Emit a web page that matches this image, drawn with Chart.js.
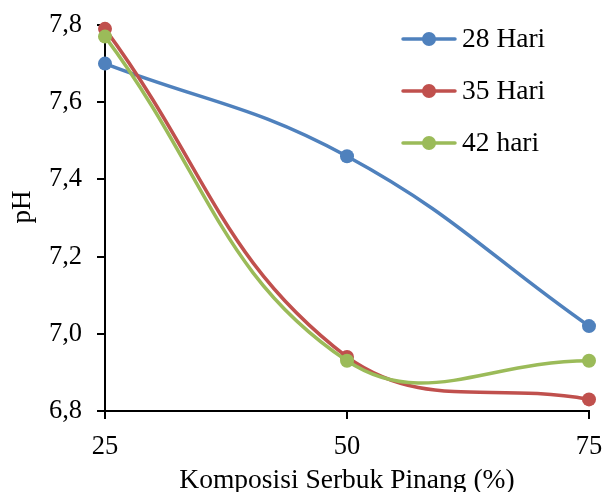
<!DOCTYPE html>
<html>
<head>
<meta charset="utf-8">
<script src="https://cdn.jsdelivr.net/npm/chart.js@4/dist/chart.umd.min.js"></script>
<style>
  html, body { margin: 0; padding: 0; background: #ffffff; }
  canvas { display: block; }
</style>
</head>
<body>
<canvas id="phChart" width="605" height="492"></canvas>
<script>
// pH versus areca-nut powder composition, per incubation time
const komposisi = [25, 50, 75];
const hari28 = [7.70, 7.46, 7.02];
const hari35 = [7.79, 6.94, 6.83];
const hari42 = [7.77, 6.93, 6.93];

const seriesNames = ['28 Hari', '35 Hari', '42 hari'];
const seriesColors = ['#4F81BD', '#C0504D', '#9BBB59'];

const yTickValues = [6.8, 7.0, 7.2, 7.4, 7.6, 7.8];
const yTickLabels = ['6,8', '7,0', '7,2', '7,4', '7,6', '7,8'];
const xTickLabels = ['25', '50', '75'];

const xTitle = 'Komposisi Serbuk Pinang (%)';
const yTitle = 'pH';

const FONT = '"Liberation Serif", "Times New Roman", serif';

function toPoints(values) {
  return komposisi.map((x, i) => ({ x: x, y: values[i] }));
}

const allSeries = [hari28, hari35, hari42];
const datasets = allSeries.map((vals, i) => ({
  label: seriesNames[i],
  data: toPoints(vals),
  borderColor: seriesColors[i],
  backgroundColor: seriesColors[i],
  pointBackgroundColor: seriesColors[i],
  pointBorderWidth: 0,
  pointRadius: 7,
  pointHoverRadius: 7,
  borderWidth: 3.5,
  tension: 0.42,
  clip: false,
  order: allSeries.length - i   // later series painted on top
}));

// Legend drawn inside the plot, upper right
const insideLegend = {
  id: 'insideLegend',
  afterDraw(chart) {
    const ctx = chart.ctx;
    const rows = [39, 91, 143];
    ctx.save();
    ctx.font = '27.5px ' + FONT;
    ctx.textBaseline = 'middle';
    ctx.textAlign = 'left';
    seriesNames.forEach((name, i) => {
      const y = rows[i];
      ctx.strokeStyle = seriesColors[i];
      ctx.lineWidth = 3.5;
      ctx.lineCap = 'round';
      ctx.beginPath();
      ctx.moveTo(403, y);
      ctx.lineTo(455, y);
      ctx.stroke();
      ctx.fillStyle = seriesColors[i];
      ctx.beginPath();
      ctx.arc(429, y, 7, 0, Math.PI * 2);
      ctx.fill();
      ctx.fillStyle = '#000000';
      ctx.fillText(name, 462, y + 1);
    });
    ctx.restore();
  }
};

// Vertical axis title
const yAxisTitle = {
  id: 'yAxisTitle',
  afterDraw(chart) {
    const ctx = chart.ctx;
    ctx.save();
    ctx.font = '27px ' + FONT;
    ctx.fillStyle = '#000000';
    ctx.textAlign = 'center';
    ctx.textBaseline = 'middle';
    ctx.translate(23, 207);
    ctx.rotate(-Math.PI / 2);
    ctx.fillText(yTitle, 0, 0);
    ctx.restore();
  }
};

new Chart(document.getElementById('phChart'), {
  type: 'line',
  data: { datasets: datasets },
  plugins: [insideLegend, yAxisTitle],
  options: {
    responsive: false,
    animation: false,
    devicePixelRatio: 1,
    layout: { padding: { top: 25, right: 16, left: 0, bottom: 0 } },
    plugins: {
      legend: { display: false },
      tooltip: { enabled: false }
    },
    scales: {
      x: {
        type: 'linear',
        min: 25,
        max: 75,
        afterBuildTicks(scale) {
          scale.ticks = komposisi.map(v => ({ value: v }));
        },
        afterFit(scale) {
          scale.height = 81;
          scale.paddingLeft = 0;
          scale.paddingRight = 0;
        },
        ticks: {
          color: '#000000',
          font: { family: FONT, size: 26.5 },
          padding: 12,
          maxRotation: 0,
          callback: (v) => {
            const idx = komposisi.indexOf(v);
            return idx >= 0 ? xTickLabels[idx] : '';
          }
        },
        grid: {
          drawOnChartArea: false,
          drawTicks: true,
          tickLength: 8,
          color: '#000000',
          lineWidth: 2
        },
        border: { display: true, color: '#000000', width: 2 },
        title: {
          display: true,
          text: xTitle,
          color: '#000000',
          font: { family: FONT, size: 27.5, lineHeight: 1 },
          padding: { top: 0, bottom: -3 }
        }
      },
      y: {
        min: 6.8,
        max: 7.8,
        afterBuildTicks(scale) {
          scale.ticks = yTickValues.map(v => ({ value: v }));
        },
        afterFit(scale) {
          scale.width = 105;
          scale.paddingTop = 0;
          scale.paddingBottom = 0;
        },
        ticks: {
          color: '#000000',
          font: { family: FONT, size: 26.5 },
          padding: 15,
          callback: (v) => {
            const idx = yTickValues.findIndex(t => Math.abs(t - v) < 1e-6);
            return idx >= 0 ? yTickLabels[idx] : '';
          }
        },
        grid: {
          drawOnChartArea: false,
          drawTicks: true,
          tickLength: 8,
          color: '#000000',
          lineWidth: 2
        },
        border: { display: true, color: '#000000', width: 2 }
      }
    }
  }
});
</script>
</body>
</html>
